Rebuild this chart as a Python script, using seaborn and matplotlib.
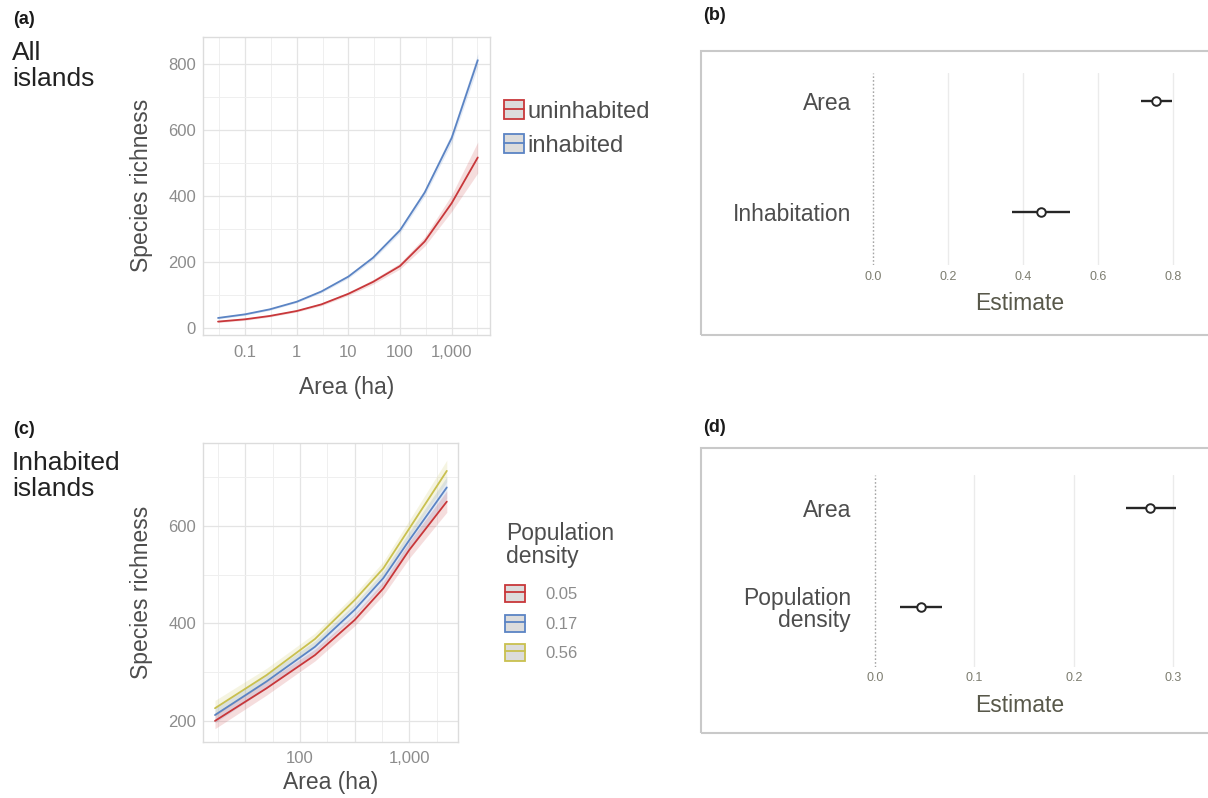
import numpy as np
import pandas as pd
import matplotlib
matplotlib.use("Agg")
import matplotlib.pyplot as plt
from matplotlib.patches import Patch, Rectangle
from matplotlib.lines import Line2D
import seaborn as sns

# ---- (a) all islands: predicted species richness against island area ----
area_all = [0.03, 0.1, 0.3, 1, 3, 10, 30, 100, 300, 1000, 3200]
status_labels = ["uninhabited", "inhabited"]
rich_uninhabited = [20, 27, 37, 52, 72, 104, 140, 188, 262, 378, 516]
ci_uninhabited = [3, 3, 3, 3, 4, 5, 7, 9, 14, 25, 47]
rich_inhabited = [31, 42, 57, 80, 111, 156, 213, 296, 410, 575, 810]
ci_inhabited = [3, 3, 3, 3, 4, 5, 6, 8, 10, 14, 20]
ticks_a_x = [0.1, 1, 10, 100, 1000]
ticklabels_a_x = ["0.1", "1", "10", "100", "1,000"]
ticks_a_y = [0, 200, 400, 600, 800]

# ---- (c) inhabited islands: richness by population density ----
area_inh = [16.7, 49.5, 137, 316, 578, 1000, 2200]
density_labels = ["0.05", "0.17", "0.56"]
rich_d005 = [200, 267, 335, 407, 472, 551, 650]
rich_d017 = [212, 281, 352, 428, 493, 571, 679]
rich_d056 = [226, 294, 368, 448, 513, 595, 713]
ci_density = [16, 14, 12, 12, 14, 17, 22]
ticks_c_x = [10 ** 1.5, 100, 10 ** 2.5, 1000]
ticklabels_c_x = ["", "100", "", "1,000"]
ticks_c_y = [200, 400, 600]

# ---- (b) coefficient estimates, all islands ----
coef_b_terms = ["Area", "Inhabitation"]
coef_b_est = [0.755, 0.448]
coef_b_low = [0.715, 0.371]
coef_b_high = [0.799, 0.526]
ticks_b = [0.0, 0.2, 0.4, 0.6, 0.8]

# ---- (d) coefficient estimates, inhabited islands ----
coef_d_terms = ["Area", "Population\ndensity"]
coef_d_est = [0.277, 0.046]
coef_d_low = [0.253, 0.025]
coef_d_high = [0.303, 0.067]
ticks_d = [0.0, 0.1, 0.2, 0.3]

pal_status = {"uninhabited": "#c8373a", "inhabited": "#5b84c4"}
pal_density = {"0.05": "#c8373a", "0.17": "#5b84c4", "0.56": "#c9c04f"}

sns.set_theme(style="white")
plt.rcParams["font.family"] = ["Liberation Sans", "DejaVu Sans"]

W, H = 1208, 798
fig = plt.figure(figsize=(W / 100, H / 100), dpi=100)
fig.patch.set_facecolor("white")

TITLE_C = "#4d4d4d"
TICK_C = "#8c8c8c"


def px_axes(l, t, r, b):
    return fig.add_axes([l / W, 1 - b / H, (r - l) / W, (b - t) / H])


def px_text(x, y, s, **kw):
    return fig.text(x / W, 1 - y / H, s, **kw)


def style_curve_axes(ax):
    ax.set_facecolor("white")
    for sp in ax.spines.values():
        sp.set_visible(True)
        sp.set_color("#dcdcdc")
        sp.set_linewidth(1.0)
    ax.grid(which="major", color="#e4e4e4", lw=0.9)
    ax.grid(which="minor", color="#efefef", lw=0.7)
    ax.tick_params(which="both", length=0, labelsize=12, labelcolor=TICK_C, pad=5)
    ax.tick_params(axis="x", which="both", pad=7)
    ax.set_axisbelow(True)


def curve_panel(ax, df, palette, order):
    for key in order:
        g = df[df["group"] == key]
        ax.fill_between(g["area"], g["richness"] - g["ci"], g["richness"] + g["ci"],
                        color=palette[key], alpha=0.17, lw=0)
    sns.lineplot(data=df, x="area", y="richness", hue="group", hue_order=order,
                 palette=palette, ax=ax, legend=False, lw=1.3)
    ax.set_xscale("log")


def key_handles(palette, order):
    return [(Patch(facecolor="#dcdcdc", edgecolor=palette[k], lw=1.3),
             Line2D([], [], color=palette[k], lw=1.3)) for k in order]


# ---------------- panel (a) ----------------
df_a = pd.DataFrame({
    "area": area_all * 2,
    "richness": rich_uninhabited + rich_inhabited,
    "ci": ci_uninhabited + ci_inhabited,
    "group": [status_labels[0]] * len(area_all) + [status_labels[1]] * len(area_all),
})
ax_a = px_axes(203, 36.7, 490, 335)
style_curve_axes(ax_a)
curve_panel(ax_a, df_a, pal_status, status_labels[::-1])
ax_a.set_xlim(10 ** -1.814, 10 ** 3.742)
ax_a.set_ylim(-20.5, 881)
ax_a.set_xticks(ticks_a_x, ticklabels_a_x)
ax_a.set_xticks([10 ** (k + 0.5) for k in range(-2, 4)], minor=True)
ax_a.set_xticklabels([], minor=True)
ax_a.set_yticks(ticks_a_y)
ax_a.set_yticks([100, 300, 500, 700], minor=True)
ax_a.set_xlabel("Area (ha)", fontsize=16.5, color=TITLE_C, labelpad=12)
ax_a.set_ylabel("Species richness", fontsize=16.5, color=TITLE_C, labelpad=11)

fig.legend(key_handles(pal_status, status_labels), status_labels,
           loc="upper left", bbox_to_anchor=(504 / W, 1 - 100 / H),
           frameon=False, fontsize=17, labelcolor=TITLE_C,
           handlelength=0.85, handleheight=0.85, handletextpad=0.15,
           labelspacing=0.5, borderpad=0, borderaxespad=0)

# ---------------- panel (c) ----------------
n = len(area_inh)
df_c = pd.DataFrame({
    "area": area_inh * 3,
    "richness": rich_d005 + rich_d017 + rich_d056,
    "ci": ci_density * 3,
    "group": [density_labels[0]] * n + [density_labels[1]] * n + [density_labels[2]] * n,
})
ax_c = px_axes(203.3, 443.3, 457.7, 741.7)
style_curve_axes(ax_c)
curve_panel(ax_c, df_c, pal_density, density_labels[::-1])
ax_c.set_xlim(10 ** 1.116, 10 ** 3.442)
ax_c.set_ylim(157.3, 769.6)
ax_c.set_xticks(ticks_c_x, ticklabels_c_x)
ax_c.set_xticks([10 ** 1.25, 10 ** 1.75, 10 ** 2.25, 10 ** 2.75, 10 ** 3.25], minor=True)
ax_c.set_xticklabels([], minor=True)
ax_c.set_yticks(ticks_c_y)
ax_c.set_yticks([300, 500, 700], minor=True)
ax_c.set_xlabel("Area (ha)", fontsize=16.5, color=TITLE_C, labelpad=3)
ax_c.set_ylabel("Species richness", fontsize=16.5, color=TITLE_C, labelpad=11)

px_text(506, 522, "Population\ndensity", fontsize=16.5, color=TITLE_C,
        ha="left", va="top", linespacing=1.0)
fig.legend(key_handles(pal_density, density_labels), density_labels,
           loc="upper left", bbox_to_anchor=(505 / W, 1 - 585 / H),
           frameon=False, fontsize=12, labelcolor=TICK_C,
           handlelength=1.2, handleheight=1.2, handletextpad=1.2,
           labelspacing=0.75, borderpad=0, borderaxespad=0)


# ---------------- forest panels (b) and (d) ----------------
def forest(ax, terms, est, low, high, ticks, xlim, ylim):
    y = np.arange(len(terms))
    ax.set_facecolor("none")
    for t in ticks[1:]:
        ax.axvline(t, color="#ebebeb", lw=1.0, zorder=0)
    ax.axvline(0, color="#a5a5a5", lw=1.0, ls=(0, (1.2, 1.5)), zorder=1)
    ax.hlines(y, low, high, color="#262626", lw=1.7, zorder=2)
    sns.scatterplot(x=est, y=y, ax=ax, s=38, color="white", edgecolor="#262626",
                    linewidth=1.4, zorder=3, legend=False)
    ax.set_yticks(y, terms)
    ax.set_xticks(ticks, [f"{t:.1f}" for t in ticks])
    ax.set_xlim(xlim)
    ax.set_ylim(ylim)
    for sp in ax.spines.values():
        sp.set_visible(False)
    ax.grid(False)
    ax.tick_params(axis="y", length=0, labelsize=16.5, labelcolor=TITLE_C, pad=5)
    ax.tick_params(axis="x", length=0, labelsize=9, labelcolor="#7d7d70", pad=4)
    for lab in ax.get_yticklabels():
        lab.set_linespacing(0.95)


ax_b = px_axes(858, 73, 1200, 265)
forest(ax_b, coef_b_terms, coef_b_est, coef_b_low, coef_b_high, ticks_b,
       ((858 - 872.7) / 375, (1200 - 872.7) / 375), (1.48, -0.25))
px_text(1020, 304, "Estimate", fontsize=16.5, color="#58584a", ha="center", va="center")

ax_d = px_axes(858, 475, 1200, 666.7)
forest(ax_d, coef_d_terms, coef_d_est, coef_d_low, coef_d_high, ticks_d,
       ((858 - 875) / 994, (1200 - 875) / 994), (1.6, -0.336))
px_text(1020, 706, "Estimate", fontsize=16.5, color="#58584a", ha="center", va="center")

for top, bot in [(51, 335), (447.7, 732.7)]:
    fig.add_artist(Rectangle((701 / W, 1 - bot / H), (1300 - 701) / W, (bot - top) / H,
                             transform=fig.transFigure, fill=False,
                             edgecolor="#c9c9c9", lw=1.5))

# ---------------- panel tags and row titles ----------------
for x, y, tag in [(13, 20, "(a)"), (703, 16, "(b)"), (13, 430, "(c)"), (703, 428, "(d)")]:
    px_text(x, y, tag, fontsize=13, fontweight="bold", color="#1a1a1a", ha="left", va="center")
px_text(12, 41, "All\nislands", fontsize=19, color="#222222", ha="left", va="top", linespacing=1.13)
px_text(12, 451, "Inhabited\nislands", fontsize=19, color="#222222", ha="left", va="top", linespacing=1.13)

fig.savefig("out.png", dpi=100)
